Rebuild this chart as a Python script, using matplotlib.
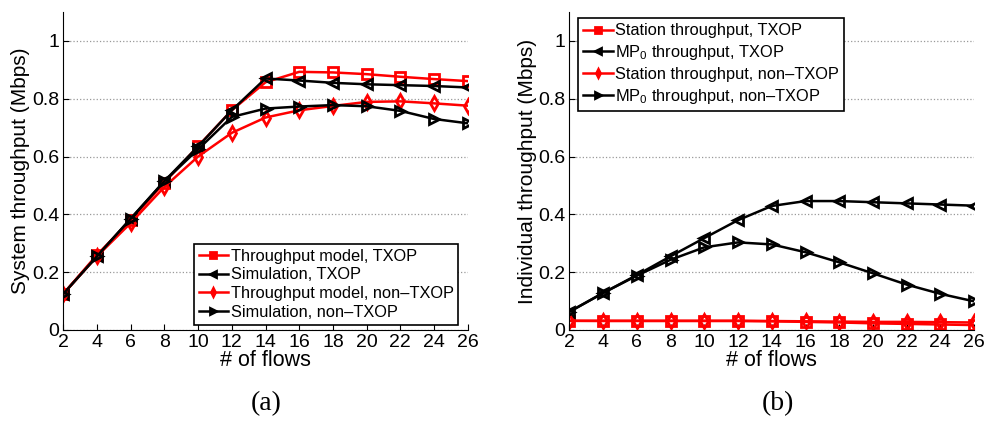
import numpy as np
import matplotlib
matplotlib.use('Agg')
import matplotlib.pyplot as plt

plt.rcParams['font.family'] = ['Liberation Sans', 'DejaVu Sans']
plt.rcParams['mathtext.fontset'] = 'custom'
plt.rcParams['mathtext.rm'] = 'Liberation Sans'
plt.rcParams['mathtext.it'] = 'Liberation Sans'

flows = [2, 4, 6, 8, 10, 12, 14, 16, 18, 20, 22, 24, 26]

# (a) system throughput
model_txop = [0.125, 0.26, 0.38, 0.51, 0.636, 0.76, 0.857, 0.893, 0.891, 0.885, 0.876, 0.868, 0.861]
sim_txop = [0.125, 0.255, 0.385, 0.515, 0.635, 0.76, 0.870, 0.863, 0.855, 0.850, 0.847, 0.844, 0.839]
model_non = [0.125, 0.255, 0.37, 0.495, 0.60, 0.682, 0.735, 0.760, 0.775, 0.789, 0.791, 0.784, 0.776]
sim_non = [0.125, 0.255, 0.385, 0.515, 0.625, 0.737, 0.766, 0.773, 0.778, 0.774, 0.758, 0.730, 0.715]

# (b) individual throughput
station_txop = [0.0315, 0.031, 0.031, 0.031, 0.031, 0.031, 0.030, 0.028, 0.026, 0.023, 0.021, 0.019, 0.017]
mp0_txop = [0.063, 0.128, 0.19, 0.255, 0.318, 0.380, 0.429, 0.446, 0.446, 0.442, 0.438, 0.434, 0.430]
station_non = [0.032, 0.032, 0.032, 0.032, 0.032, 0.032, 0.031, 0.030, 0.029, 0.028, 0.028, 0.027, 0.026]
mp0_non = [0.063, 0.128, 0.188, 0.243, 0.286, 0.303, 0.296, 0.269, 0.234, 0.196, 0.157, 0.125, 0.099]

fig = plt.figure(figsize=(9.92, 4.23), dpi=100)
ax1 = fig.add_axes([0.0638, 0.2199, 0.4077, 0.7517])
ax2 = fig.add_axes([0.574, 0.2199, 0.408, 0.7517])

lw = 1.8
sty = dict(lw=lw, ms=7, mew=2.0, mfc='none')


def style(ax, ylab):
    ax.set_xlim(2, 26)
    ax.set_ylim(0, 1.1)
    ax.set_xticks(flows)
    ax.set_yticks([0, 0.2, 0.4, 0.6, 0.8, 1.0])
    ax.set_yticklabels(['0', '0.2', '0.4', '0.6', '0.8', '1'])
    ax.tick_params(direction='in', labelsize=14, length=4)
    ax.tick_params(axis='x', pad=3)
    ax.tick_params(axis='y', pad=3)
    for s in ['top', 'right']:
        ax.spines[s].set_visible(False)
    ax.yaxis.grid(True, ls=':', color='#999999', lw=0.9)
    ax.set_axisbelow(True)
    ax.set_xlabel('# of flows', fontsize=15.5, labelpad=-1)
    ax.set_ylabel(ylab, fontsize=15, labelpad=1)


def legend(ax, loc, anchor, spacing):
    leg = ax.legend(loc=loc, bbox_to_anchor=anchor, fontsize=11.8, fancybox=False,
                    framealpha=1, edgecolor='black', handlelength=1.8, handletextpad=0.15,
                    borderpad=0.3, labelspacing=spacing, borderaxespad=0, markerscale=0.6)
    leg.get_frame().set_linewidth(1.2)
    for h in leg.legend_handles:
        h.set_markerfacecolor(h.get_color())


ax1.plot(flows, model_txop, 's-', color='red', label='Throughput model, TXOP', **sty)
ax1.plot(flows, sim_txop, '<-', color='black', label='Simulation, TXOP', **sty)
ax1.plot(flows, model_non, 'd-', color='red', label='Throughput model, non\u2013TXOP', **sty)
ax1.plot(flows, sim_non, '>-', color='black', label='Simulation, non\u2013TXOP', **sty)
style(ax1, 'System throughput (Mbps)')
legend(ax1, 'lower right', (0.977, 0.017), 0.22)

ax2.plot(flows, station_txop, 's-', color='red', label='Station throughput, TXOP', **sty)
ax2.plot(flows, mp0_txop, '<-', color='black', label='MP$_0$ throughput, TXOP', **sty)
ax2.plot(flows, station_non, 'd-', color='red', label='Station throughput, non\u2013TXOP', **sty)
ax2.plot(flows, mp0_non, '>-', color='black', label='MP$_0$ throughput, non\u2013TXOP', **sty)
style(ax2, 'Individual throughput (Mbps)')
legend(ax2, 'upper left', (0.022, 0.98), 0.3)

fig.text(0.268, 0.047, '(a)', ha='center', va='center', fontsize=20, family='Liberation Serif')
fig.text(0.784, 0.047, '(b)', ha='center', va='center', fontsize=20, family='Liberation Serif')

fig.savefig('out.png', dpi=100)
